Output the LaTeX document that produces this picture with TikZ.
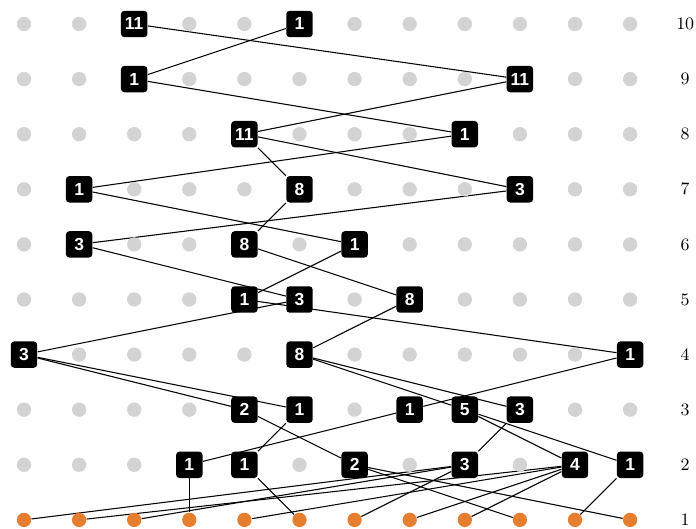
\documentclass[tikz,border=0pt]{standalone}
\usepackage{xcolor}
\usepackage{fontspec}
\usepackage{tikz}
\usetikzlibrary{backgrounds}
\newfontfamily\boxfont{Liberation Sans}
\definecolor{dotgray}{HTML}{D3D3D3}
\definecolor{leaforange}{HTML}{E67E30}

\begin{document}
\begin{tikzpicture}[x=1cm, y=1cm,
  box/.style={rectangle, rounded corners=1.8pt, fill=black, text=white, minimum size=0.48cm, inner sep=0pt, font=\boxfont\bfseries\fontsize{9}{10}\selectfont},
  gdot/.style={circle, fill=dotgray, minimum size=0.26cm, inner sep=0pt},
  leaf/.style={circle, fill=leaforange, minimum size=0.26cm, inner sep=0pt},
  link/.style={line width=0.55pt, black}]
  \useasboundingbox (0.5644,0.8367) rectangle (13.196,10.4356);

  % Grid
  \foreach \r in {2,...,10}
    \foreach \c in {1,...,12}
      \node (g\r-\c) [gdot] at (\c,\r) {};
  \foreach \c in {1,...,12}
    \node (d\c) [leaf] at (\c,1) {};
  \foreach \r in {1,...,10}
    \node (lab\r) at (13,\r) {\fontsize{9}{10}\selectfont\r};

  % Nodes
  \node (n10c3) [box] at (3,10) {11};
  \node (n10c6) [box] at (6,10) {1};
  \node (n9c3) [box] at (3,9) {1};
  \node (n9c10) [box] at (10,9) {11};
  \node (n8c5) [box] at (5,8) {11};
  \node (n8c9) [box] at (9,8) {1};
  \node (n7c2) [box] at (2,7) {1};
  \node (n7c6) [box] at (6,7) {8};
  \node (n7c10) [box] at (10,7) {3};
  \node (n6c2) [box] at (2,6) {3};
  \node (n6c5) [box] at (5,6) {8};
  \node (n6c7) [box] at (7,6) {1};
  \node (n5c5) [box] at (5,5) {1};
  \node (n5c6) [box] at (6,5) {3};
  \node (n5c8) [box] at (8,5) {8};
  \node (n4c1) [box] at (1,4) {3};
  \node (n4c6) [box] at (6,4) {8};
  \node (n4c12) [box] at (12,4) {1};
  \node (n3c5) [box] at (5,3) {2};
  \node (n3c6) [box] at (6,3) {1};
  \node (n3c8) [box] at (8,3) {1};
  \node (n3c9) [box] at (9,3) {5};
  \node (n3c10) [box] at (10,3) {3};
  \node (n2c4) [box] at (4,2) {1};
  \node (n2c5) [box] at (5,2) {1};
  \node (n2c7) [box] at (7,2) {2};
  \node (n2c9) [box] at (9,2) {3};
  \node (n2c11) [box] at (11,2) {4};
  \node (n2c12) [box] at (12,2) {1};

  % Edges
  \begin{scope}[on background layer]
    \draw[link] (n10c3) -- (n9c10);
    \draw[link] (n10c6) -- (n9c3);
    \draw[link] (n9c3) -- (n8c9);
    \draw[link] (n9c10) -- (n8c5);
    \draw[link] (n8c5) -- (n7c6);
    \draw[link] (n8c5) -- (n7c10);
    \draw[link] (n8c9) -- (n7c2);
    \draw[link] (n7c2) -- (n6c7);
    \draw[link] (n7c6) -- (n6c5);
    \draw[link] (n7c10) -- (n6c2);
    \draw[link] (n6c2) -- (n5c6);
    \draw[link] (n6c5) -- (n5c8);
    \draw[link] (n6c7) -- (n5c5);
    \draw[link] (n5c5.center) -- (n4c12);
    \draw[link] (n5c6) -- (n4c1);
    \draw[link] (n5c8) -- (n4c6);
    \draw[link] (n4c1) -- (n3c5);
    \draw[link] (n4c1) -- (n3c6);
    \draw[link] (n4c6) -- (n3c9);
    \draw[link] (n4c6) -- (n3c10);
    \draw[link] (n4c12) -- (n3c8);
    \draw[link] (n3c5) -- (n2c7);
    \draw[link] (n3c6) -- (n2c5);
    \draw[link] (n3c8) -- (n2c4);
    \draw[link] (n3c9) -- (n2c11);
    \draw[link] (n3c9) -- (n2c12);
    \draw[link] (n3c10) -- (n2c9);
    \draw[link] (n2c4) -- (d4);
    \draw[link] (n2c5) -- (d6);
    \draw[link] (n2c7) -- (d10);
    \draw[link] (n2c7) -- (d12);
    \draw[link] (n2c9) -- (d1);
    \draw[link] (n2c9) -- (d3);
    \draw[link] (n2c9) -- (d7);
    \draw[link] (n2c11) -- (d2);
    \draw[link] (n2c11) -- (d5);
    \draw[link] (n2c11) -- (d8);
    \draw[link] (n2c11) -- (d9);
    \draw[link] (n2c12) -- (d11);
  \end{scope}
\end{tikzpicture}
\end{document}
